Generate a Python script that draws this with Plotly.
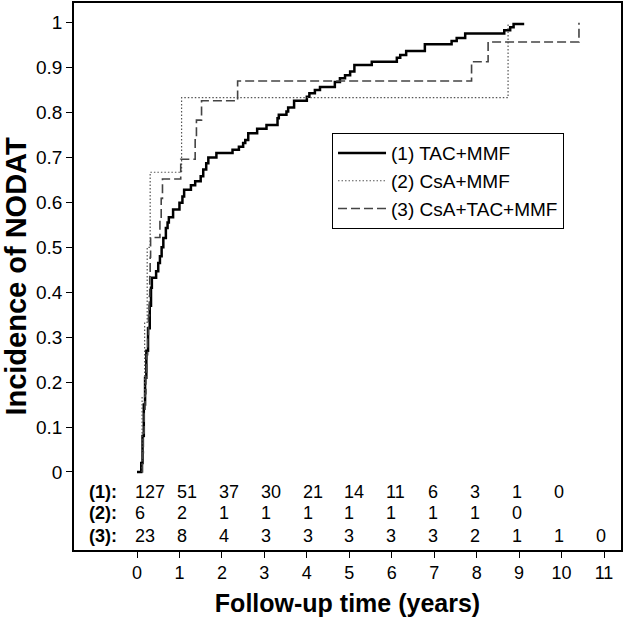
import plotly.graph_objects as go

# ---- data ----
tac_t = [0.00, 0.10, 0.13, 0.16, 0.19, 0.22, 0.26, 0.30, 0.33, 0.35, 0.45, 0.50, 0.54, 0.58,
         0.62, 0.68, 0.72, 0.75, 0.85, 1.00, 1.07, 1.11, 1.27, 1.37, 1.50, 1.56, 1.63, 1.68,
         1.87, 2.25, 2.40, 2.50, 2.55, 2.62, 2.83, 3.05, 3.31, 3.34, 3.52, 3.56, 3.70, 4.00,
         4.06, 4.19, 4.31, 4.66, 4.78, 4.90, 5.02, 5.12, 5.53, 6.12, 6.20, 6.34, 6.78, 7.41,
         7.53, 7.73, 8.65, 8.79, 8.87, 9.12]
tac_y = [0.000, 0.020, 0.080, 0.150, 0.210, 0.270, 0.320, 0.370, 0.410, 0.432, 0.447, 0.465,
         0.480, 0.500, 0.521, 0.543, 0.555, 0.567, 0.584, 0.599, 0.613, 0.628, 0.638, 0.647,
         0.658, 0.673, 0.687, 0.700, 0.710, 0.717, 0.724, 0.732, 0.739, 0.754, 0.764, 0.772,
         0.787, 0.795, 0.802, 0.811, 0.826, 0.835, 0.843, 0.850, 0.857, 0.868, 0.876, 0.883,
         0.891, 0.906, 0.913, 0.922, 0.928, 0.937, 0.952, 0.959, 0.966, 0.976, 0.983, 0.990,
         0.997, 0.997]

csa_t = [0.12, 0.12, 0.18, 0.24, 0.31, 1.05, 8.74]
csa_y = [0.000, 0.167, 0.333, 0.500, 0.667, 0.833, 1.000]

triple_t = [0.12, 0.13, 0.15, 0.17, 0.19, 0.21, 0.23, 0.25, 0.27, 0.29, 0.30, 0.31, 0.32,
            0.54, 0.57, 0.60, 1.03, 1.37, 1.40, 1.52, 2.37, 7.88, 8.27, 10.41]
triple_y = [0.000, 0.043, 0.087, 0.130, 0.174, 0.217, 0.261, 0.304, 0.348, 0.391, 0.435,
            0.478, 0.522, 0.565, 0.609, 0.652, 0.696, 0.739, 0.783, 0.826, 0.870, 0.913,
            0.957, 1.000]

series_names = ["(1) TAC+MMF", "(2) CsA+MMF", "(3) CsA+TAC+MMF"]
row_labels = ["(1):", "(2):", "(3):"]
risk1 = [127, 51, 37, 30, 21, 14, 11, 6, 3, 1, 0]
risk2 = [6, 2, 1, 1, 1, 1, 1, 1, 1, 0]
risk3 = [23, 8, 4, 3, 3, 3, 3, 3, 2, 1, 1, 0]

x_ticks = list(range(0, 12))
y_ticks = [0, 0.1, 0.2, 0.3, 0.4, 0.5, 0.6, 0.7, 0.8, 0.9, 1]
y_ticktext = ["0", "0.1", "0.2", "0.3", "0.4", "0.5", "0.6", "0.7", "0.8", "0.9", "1"]

FONT = "Liberation Sans, Arial, Helvetica, sans-serif"

fig = go.Figure()
fig.add_trace(go.Scatter(x=tac_t, y=tac_y, mode="lines", name=series_names[0],
                         line=dict(color="#000000", width=2.5, shape="hv")))
fig.add_trace(go.Scatter(x=csa_t, y=csa_y, mode="lines", name=series_names[1],
                         line=dict(color="#555555", width=1.2, shape="hv", dash="1.5px,2px")))
fig.add_trace(go.Scatter(x=triple_t, y=triple_y, mode="lines", name=series_names[2],
                         line=dict(color="#444444", width=1.6, shape="hv", dash="9px,4px")))

# number-at-risk table
row_y = [-0.045, -0.0915, -0.1425]
for r, (lab, vals) in enumerate(zip(row_labels, [risk1, risk2, risk3])):
    fig.add_annotation(x=-1.18, y=row_y[r], xref="x", yref="y", text="<b>%s</b>" % lab,
                       showarrow=False, xanchor="left", yanchor="middle",
                       font=dict(family=FONT, size=18, color="#000"))
    for i, v in enumerate(vals):
        fig.add_annotation(x=i - 0.1 - 0.012 * i, y=row_y[r], xref="x", yref="y",
                           text=str(v), showarrow=False, xanchor="left", yanchor="middle",
                           font=dict(family=FONT, size=18, color="#000"))

fig.update_layout(
    width=625, height=618,
    margin=dict(l=74, r=4, t=1, b=68),
    paper_bgcolor="white", plot_bgcolor="white",
    font=dict(family=FONT, size=18, color="#000"),
    showlegend=True,
    legend=dict(x=0.4717, y=0.762, xanchor="left", yanchor="top",
                bordercolor="#000", borderwidth=1, bgcolor="white",
                font=dict(family=FONT, size=19, color="#000"),
                itemwidth=48, tracegroupgap=0),
    xaxis=dict(range=[-1.484, 11.40], tickmode="array", tickvals=x_ticks,
               ticks="outside", ticklen=6, tickwidth=1, tickcolor="#000",
               showline=True, linecolor="#000", linewidth=1.5, mirror=True,
               showgrid=False, zeroline=False,
               tickfont=dict(family=FONT, size=18),
               title=dict(text="<b>Follow-up time (years)</b>", standoff=12,
                          font=dict(family=FONT, size=25))),
    yaxis=dict(range=[-0.1736, 1.0437], tickmode="array", tickvals=y_ticks,
               ticktext=y_ticktext,
               ticks="outside", ticklen=6, tickwidth=1, tickcolor="#000",
               showline=True, linecolor="#000", linewidth=1.5, mirror=True,
               showgrid=False, zeroline=False,
               tickfont=dict(family=FONT, size=19),
               title=dict(text="<b>Incidence of NODAT</b>", standoff=3,
                          font=dict(family=FONT, size=29))),
)

fig.write_html("out.html", config={"displayModeBar": False},
               post_script="document.body.style.margin='0px';document.body.style.overflow='hidden';")
